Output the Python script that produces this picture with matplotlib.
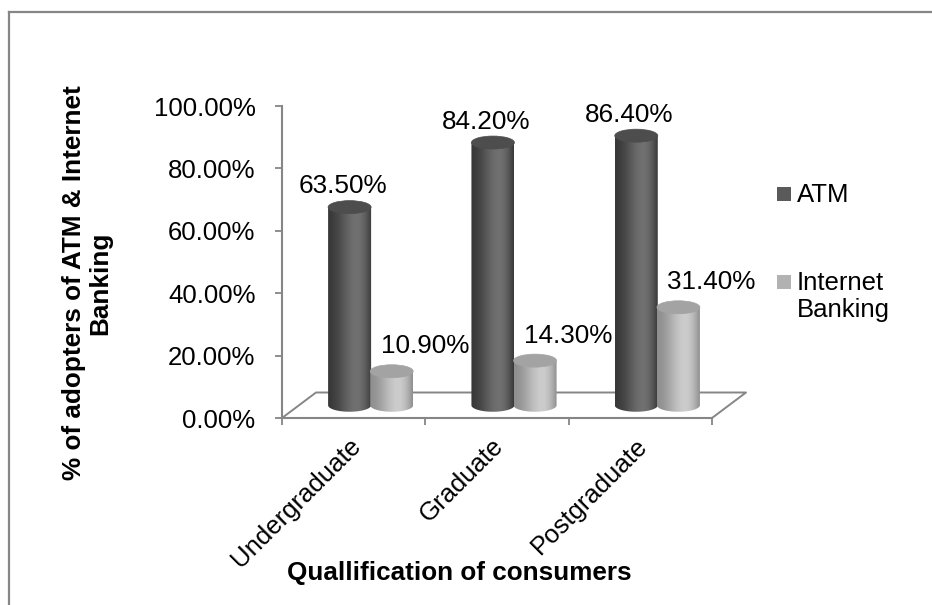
import numpy as np
import matplotlib
matplotlib.use("Agg")
import matplotlib.pyplot as plt
from matplotlib.patches import Polygon, Ellipse, Rectangle
from matplotlib.lines import Line2D
from matplotlib.ticker import FuncFormatter

plt.rcParams["font.family"] = ["Liberation Sans", "DejaVu Sans"]
plt.rcParams["font.size"] = 18.5

categories = ["Undergraduate", "Graduate", "Postgraduate"]
series_names = ["ATM", "Internet\nBanking"]
atm = [0.635, 0.842, 0.864]
internet = [0.109, 0.143, 0.314]
yticks = [0.0, 0.2, 0.4, 0.6, 0.8, 1.0]

W, H = 932, 605
GRID = "#868686"

# shading for the two series: (edge, highlight, top face, legend swatch)
styles = [
    dict(lo=0.22, hi=0.44, top="#4d4d4d", swatch="#5a5a5a"),
    dict(lo=0.56, hi=0.80, top="#a3a3a3", swatch="#b2b2b2"),
]

fig = plt.figure(figsize=(W / 100, H / 100), dpi=100)
fig.patch.set_facecolor("white")

# outer chart frame (left and top edges)
fig.add_artist(Line2D([9 / W, 9 / W], [0, 1 - 12 / H], color=GRID, lw=1.6))
fig.add_artist(Line2D([9 / W, 1], [1 - 12 / H, 1 - 12 / H], color=GRID, lw=1.6))

ax = fig.add_axes([282 / W, (H - 418) / H, (712 - 282) / W, (418 - 106) / H])
ax.set_facecolor("none")

ncat = len(categories)
# depth of the floor in data units
ddx = 34 / ((712 - 282) / ncat)
ddy = 25.5 / (418 - 106)
cyl_w = 0.30
cyl_off = 0.147
ell_h = 13 / (418 - 106)

# floor outline
fx = [0, ddx, ncat + ddx, ncat]
fy = [0, ddy, ddy, 0]
ax.plot(fx, fy, color=GRID, lw=1.4, clip_on=False, zorder=1, solid_capstyle="butt")


def draw_cylinder(ax, xc, y0, y1, w, eh, st, z):
    x0, x1 = xc - w / 2, xc + w / 2
    th = np.linspace(np.pi, 2 * np.pi, 60)
    bx = xc + w / 2 * np.cos(th)
    by = y0 + eh / 2 * np.sin(th)
    verts = [(x0, y1)] + list(zip(bx, by)) + [(x1, y1)]
    body = Polygon(verts, closed=True, facecolor="none", edgecolor="none",
                   transform=ax.transData)
    ax.add_patch(body)
    t = np.linspace(0, 1, 96)
    s = np.sin(np.pi * t ** 1.6)
    v = st["lo"] + (st["hi"] - st["lo"]) * s
    rgb = np.dstack([v, v, v])
    img = ax.imshow(rgb, extent=(x0, x1, y0 - eh / 2, y1), aspect="auto",
                    interpolation="bilinear", zorder=z, origin="lower")
    img.set_clip_path(body)
    ax.add_patch(Ellipse((xc, y1), w, eh, facecolor=st["top"],
                         edgecolor=st["top"], lw=0.5, zorder=z + 0.1))


label_offsets = [(-7, 21), (33, 25)]
for j, vals in enumerate([atm, internet]):
    sign = -1 if j == 0 else 1
    for i, v in enumerate(vals):
        xc = i + 0.5 + ddx / 2 + sign * cyl_off
        base = ddy / 2
        draw_cylinder(ax, xc, base, v + base, cyl_w, ell_h, styles[j], 2 + j + i * 0.01)
        dx, dy = label_offsets[j]
        ax.annotate(f"{v * 100:.2f}%", xy=(xc, v + base), xytext=(dx * 0.72, dy * 0.72),
                    textcoords="offset points", ha="center", va="center",
                    fontsize=18.8, zorder=10)

ax.set_xlim(0, ncat)
ax.set_ylim(0, 1)

for side in ["top", "right"]:
    ax.spines[side].set_visible(False)
for side in ["left", "bottom"]:
    ax.spines[side].set_color(GRID)
    ax.spines[side].set_linewidth(1.5)
    ax.spines[side].set_zorder(1)

ax.set_yticks(yticks)
ax.yaxis.set_major_formatter(FuncFormatter(lambda y, _: f"{y * 100:.2f}%"))
ax.tick_params(axis="y", length=5, width=1.3, color=GRID, pad=14, labelsize=18.5)
ax.set_xticks(range(ncat + 1))
ax.set_xticklabels([])
ax.tick_params(axis="x", length=5, width=1.3, color=GRID)

for i, cat in enumerate(categories):
    ax.annotate(cat, xy=(i + 0.5, 0), xycoords="data", xytext=(-4, -11),
                textcoords="offset points", rotation=45, ha="right", va="top",
                rotation_mode="anchor", fontsize=18.5)

fig.text(459 / W, 1 - 573 / H, "Quallification of consumers", ha="center", va="center",
         fontsize=18.8, fontweight="bold")
fig.text(87 / W, 1 - 283 / H, "% of adopters of ATM & Internet\nBanking", ha="center",
         va="center", rotation=90, multialignment="center", fontsize=18.8,
         fontweight="bold", linespacing=1.1)

# legend
legend_y = [194, 281.5]
for k, name in enumerate(series_names):
    yc = legend_y[k]
    fig.add_artist(Rectangle((777 / W, 1 - (yc + 7) / H), 14 / W, 14 / H,
                             transform=fig.transFigure, facecolor=styles[k]["swatch"],
                             edgecolor="none"))
    fig.text(797 / W, 1 - (yc - 11) / H, name, ha="left", va="top", fontsize=18.5,
             linespacing=1.2)

fig.savefig("out.png", dpi=100)
